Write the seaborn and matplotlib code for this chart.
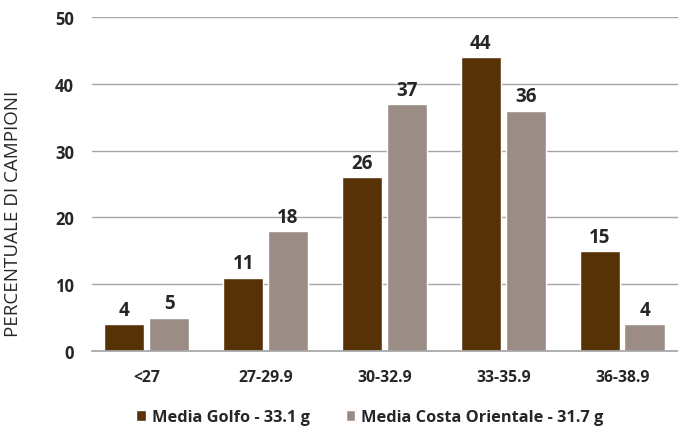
import matplotlib
matplotlib.use("Agg")
import matplotlib.pyplot as plt
import seaborn as sns
import pandas as pd

categories = ["<27", "27-29.9", "30-32.9", "33-35.9", "36-38.9"]
golfo = [4, 11, 26, 44, 15]
costa = [5, 18, 37, 36, 4]
series_names = ["Media Golfo - 33.1 g", "Media Costa Orientale - 31.7 g"]
colors = ["#573207", "#9b8c85"]

df = pd.DataFrame({
    "cat": categories * 2,
    "val": golfo + costa,
    "serie": [series_names[0]] * len(categories) + [series_names[1]] * len(categories),
})

sns.set_theme(style="white")
plt.rcParams["font.family"] = ["Open Sans", "DejaVu Sans"]

fig = plt.figure(figsize=(6.78, 4.27), dpi=100)
ax = fig.add_axes([92 / 678, 1 - 352 / 427, (678 - 92) / 678, (352 - 18) / 427])

sns.barplot(data=df, x="cat", y="val", hue="serie", palette=colors,
            width=0.755, gap=0.1, ax=ax, saturation=1, legend=True)

for cont in ax.containers:
    ax.bar_label(cont, fontsize=13.5, fontweight="bold", color="#262626", padding=3)

ax.set_ylim(0, 50)
ax.set_xlim(-0.46, 4.47)
ax.set_yticks([0, 10, 20, 30, 40, 50])
ax.yaxis.grid(True, color="#a6a6a6", linewidth=1)
ax.set_axisbelow(True)
for s in ["top", "right", "left"]:
    ax.spines[s].set_visible(False)
ax.spines["bottom"].set_color("#a6a6a6")
ax.tick_params(axis="y", length=0, pad=13, labelsize=12)
ax.tick_params(axis="x", length=0, pad=13, labelsize=11.3)
for lbl in ax.get_yticklabels() + ax.get_xticklabels():
    lbl.set_fontweight("bold")
    lbl.set_color("#262626")
ax.set_xlabel("")
ax.set_ylabel("PERCENTUALE DI CAMPIONI", fontsize=13.5, color="#262626")
ax.yaxis.set_label_coords(-0.12, 0.413)

leg = ax.legend(loc="upper center", bbox_to_anchor=(0.474, -0.13), ncol=2, frameon=False,
                prop={"weight": "bold", "size": 11.8}, handlelength=0.6, handleheight=0.6,
                columnspacing=2.2, handletextpad=0.35)
for t in leg.get_texts():
    t.set_color("#262626")

fig.savefig("out.png", dpi=100)
